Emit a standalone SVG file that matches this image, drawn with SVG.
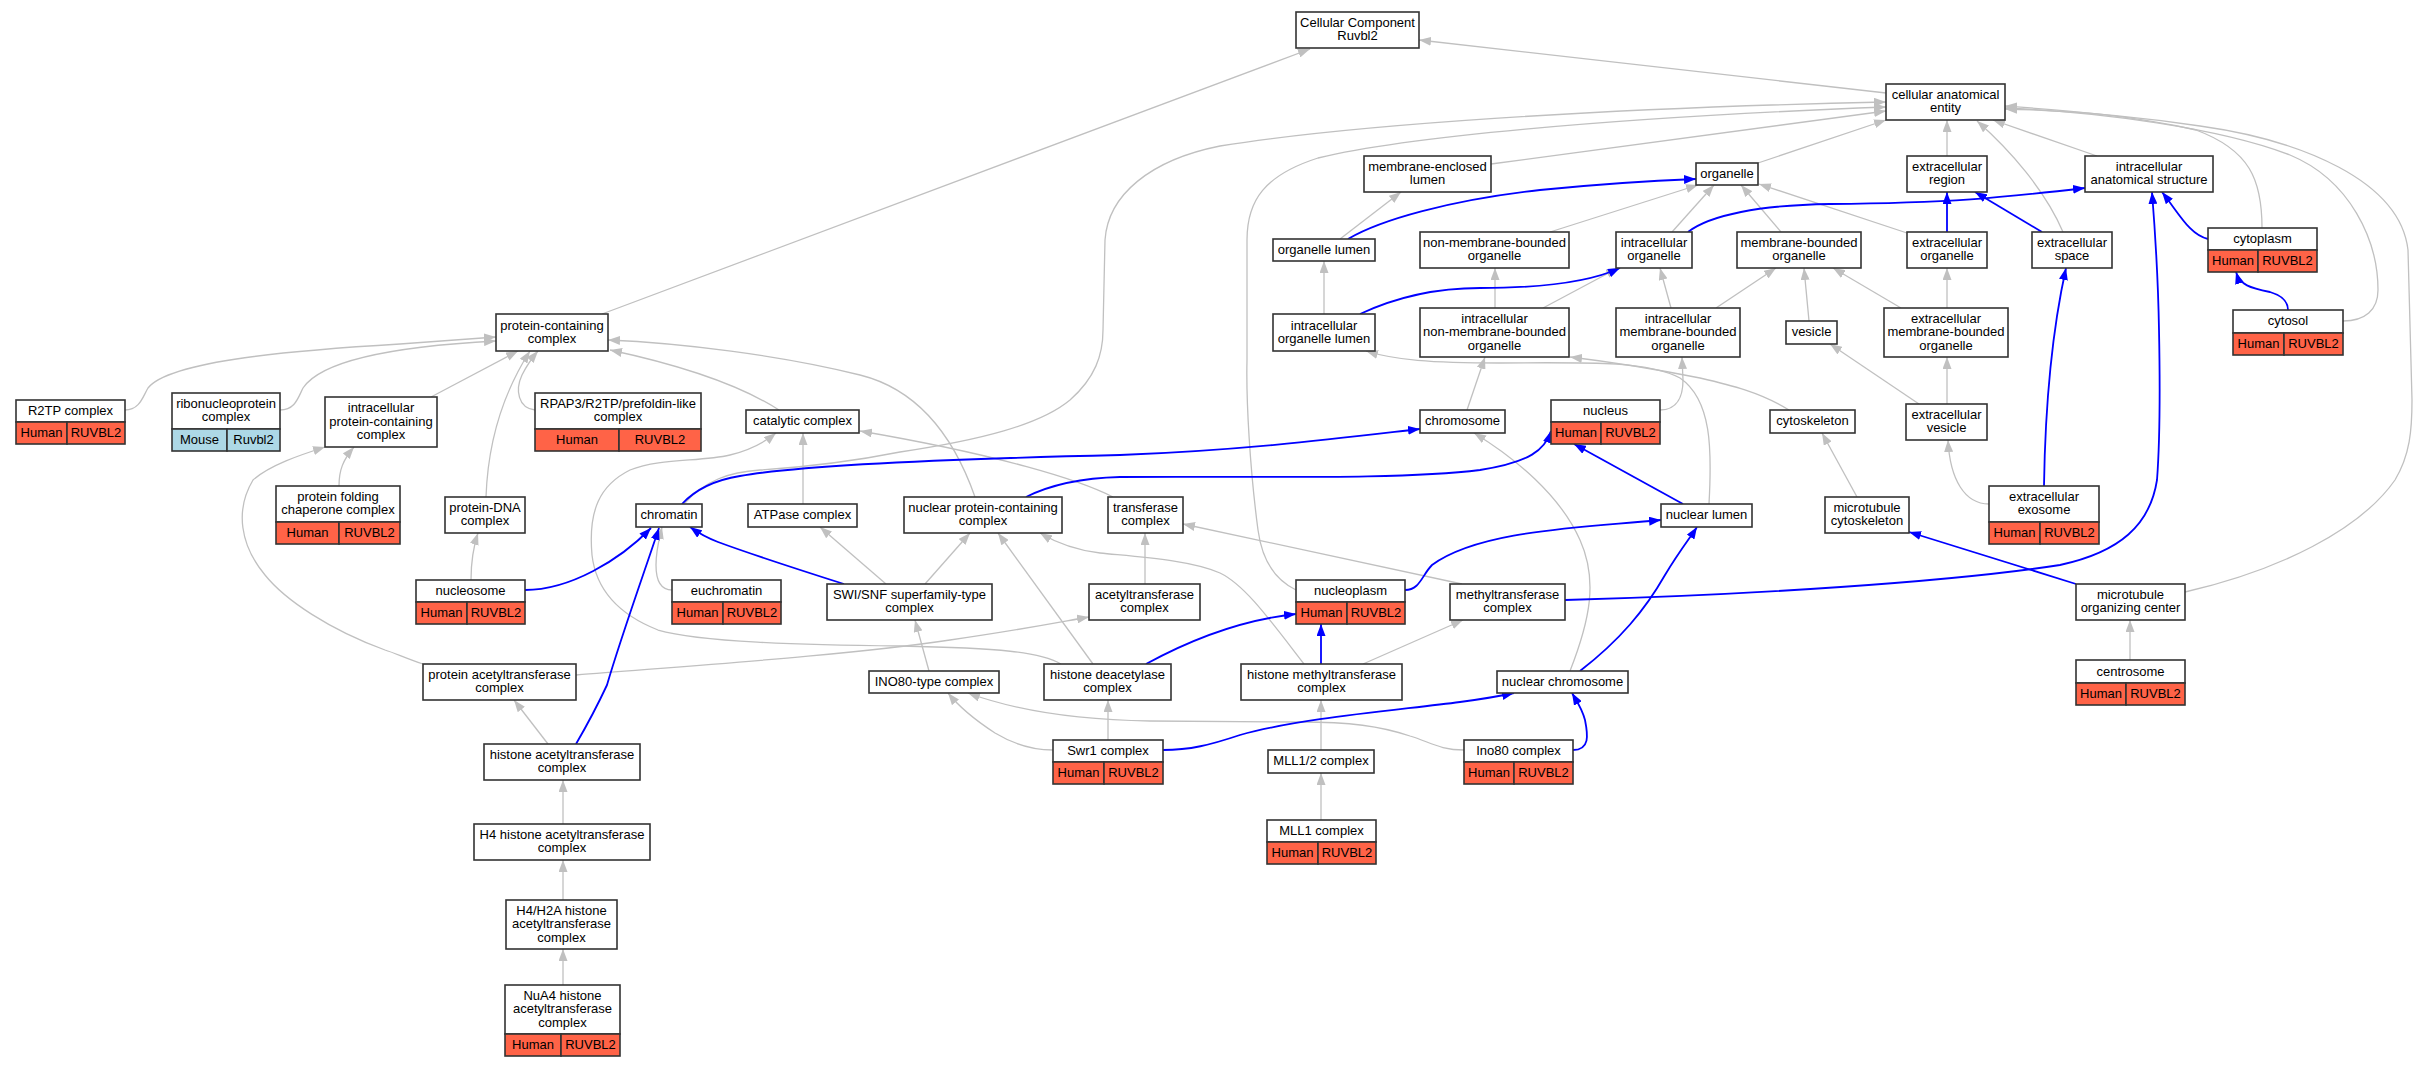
<svg xmlns="http://www.w3.org/2000/svg" width="2421" height="1067" viewBox="0 0 2421 1067">
<defs>
<style>
text{font-family:"Liberation Sans",Arial,sans-serif;font-size:13px;text-anchor:middle;fill:#000}
.n rect{fill:#fff;stroke:#333;stroke-width:1.6}
.n rect.h{fill:#ff6347}
.n rect.m{fill:#add8e6}
.g{fill:none;stroke:#c0c0c0;stroke-width:1.3;marker-end:url(#ag)}
.b{fill:none;stroke:#0000ff;stroke-width:1.8;marker-end:url(#ab)}
</style>
<marker id="ag" viewBox="0 0 12 9" refX="12" refY="4.5" markerWidth="12" markerHeight="9" markerUnits="userSpaceOnUse" orient="auto"><path d="M0,0 L12,4.5 L0,9 z" fill="#c0c0c0"/></marker>
<marker id="ab" viewBox="0 0 12 9" refX="12" refY="4.5" markerWidth="12" markerHeight="9" markerUnits="userSpaceOnUse" orient="auto"><path d="M0,0 L12,4.5 L0,9 z" fill="#0000ff"/></marker>
</defs>
<rect width="2421" height="1067" fill="#fff"/>
<g id="connectors">
<path class="g" d="M602,314 L1310,49"/>
<path class="g" d="M1886,93 L1419,40"/>
<path class="g" d="M1491,164 L1886,111"/>
<path class="g" d="M1758,163 L1886,120"/>
<path class="g" d="M684,504 C705,480 730,472 760,470 C820,466 860,460 900,452 C980,440 1040,425 1070,400 C1095,378 1103,355 1103,330 L1105,240 C1108,195 1150,160 1220,146 C1350,125 1600,108 1886,102"/>
<path class="g" d="M1296,590 C1275,580 1262,560 1258,530 C1250,470 1246,400 1247,360 L1247,240 C1247,200 1265,175 1318,158 C1400,138 1600,118 1886,107"/>
<path class="g" d="M1947,156 L1947,120"/>
<path class="g" d="M2063,232 C2045,190 2010,150 1977,121"/>
<path class="g" d="M2097,156 L1993,120"/>
<path class="g" d="M2262,228 C2262,180 2250,150 2196,130 C2130,115 2060,110 2005,106"/>
<path class="g" d="M2343,321 C2365,321 2378,310 2378,290 C2378,240 2350,180 2290,155 C2220,128 2100,112 2005,108"/>
<path class="g" d="M2185,592 C2280,570 2360,530 2395,480 C2410,455 2412,430 2412,400 L2408,250 C2400,180 2300,140 2200,126 C2120,114 2050,110 2005,109"/>
<path class="g" d="M1340,239 L1401,192"/>
<path class="g" d="M1550,232 L1698,185"/>
<path class="g" d="M1672,232 L1714,185"/>
<path class="g" d="M1781,232 L1741,185"/>
<path class="g" d="M1907,233 L1759,184"/>
<path class="g" d="M1324,314 L1324,261"/>
<path class="g" d="M1495,308 L1495,268"/>
<path class="g" d="M1543,308 L1618,268"/>
<path class="g" d="M1671,308 L1660,268"/>
<path class="g" d="M1716,308 L1776,268"/>
<path class="g" d="M1947,308 L1947,268"/>
<path class="g" d="M1901,308 L1833,268"/>
<path class="g" d="M1809,321 L1804,268"/>
<path class="g" d="M1919,404 L1830,344"/>
<path class="g" d="M1947,404 L1947,357"/>
<path class="g" d="M1989,504 C1965,504 1950,480 1948,440"/>
<path class="g" d="M1789,410 C1760,392 1730,385 1700,378 C1660,370 1620,363 1570,357"/>
<path class="g" d="M1857,497 L1822,433"/>
<path class="g" d="M1709,504 C1712,450 1712,400 1680,378 C1650,362 1600,362 1500,363 C1430,363 1395,360 1366,351"/>
<path class="g" d="M1660,410 C1678,410 1683,395 1683,380 L1682,357"/>
<path class="g" d="M1467,410 L1485,357"/>
<path class="g" d="M1570,671 C1590,620 1598,580 1580,540 C1560,495 1515,458 1474,433"/>
<path class="g" d="M779,410 C740,385 680,365 610,350"/>
<path class="g" d="M975,497 C955,440 920,390 860,375 C780,355 680,343 608,340"/>
<path class="g" d="M803,504 L803,433"/>
<path class="g" d="M1113,497 C1080,480 1000,455 860,431"/>
<path class="g" d="M886,584 L820,527"/>
<path class="g" d="M925,584 L970,533"/>
<path class="g" d="M1093,664 L998,533"/>
<path class="g" d="M1304,664 C1270,620 1245,585 1220,573 C1190,560 1140,557 1100,553 C1075,550 1055,542 1040,533"/>
<path class="g" d="M1363,664 L1463,620"/>
<path class="g" d="M1145,584 L1145,533"/>
<path class="g" d="M1462,584 L1183,524"/>
<path class="g" d="M1061,664 C1040,652 1000,648 900,646 C800,645 700,642 658,630 C620,615 596,590 592,555 C588,510 600,485 630,470 C660,458 700,462 730,455 C750,450 765,442 776,433"/>
<path class="g" d="M125,410 C140,410 143,396 148,388 C170,360 300,350 400,344 C440,341 470,339 496,337"/>
<path class="g" d="M280,410 C295,410 298,398 303,388 C325,355 420,345 496,341"/>
<path class="g" d="M431,397 L518,351"/>
<path class="g" d="M486,497 C488,440 505,390 530,351"/>
<path class="g" d="M535,410 C518,408 515,390 522,375 C527,365 532,358 538,351"/>
<path class="g" d="M339,486 C339,470 343,460 354,447"/>
<path class="g" d="M423,664 C405,658 395,653 385,650 C330,630 285,600 265,575 C240,545 235,510 253,480 C270,465 300,455 325,447"/>
<path class="g" d="M471,580 C471,560 474,545 478,533"/>
<path class="g" d="M672,590 C660,590 656,580 656,565 C656,550 659,540 662,527"/>
<path class="g" d="M576,675 C700,665 850,655 950,640 C1020,630 1060,622 1089,617"/>
<path class="g" d="M548,744 L514,700"/>
<path class="g" d="M563,824 L563,780"/>
<path class="g" d="M563,900 L563,860"/>
<path class="g" d="M563,985 L563,949"/>
<path class="g" d="M929,671 L915,620"/>
<path class="g" d="M1053,750 C1030,750 1010,742 995,733 C975,720 960,708 948,693"/>
<path class="g" d="M1464,750 C1440,750 1430,742 1410,736 C1380,726 1350,722 1300,722 L1150,721 C1080,720 1020,712 968,693"/>
<path class="g" d="M1108,740 L1108,700"/>
<path class="g" d="M1321,750 L1321,700"/>
<path class="g" d="M1321,820 L1321,773"/>
<path class="g" d="M2130,660 L2130,620"/>
<path class="b" d="M1348,239 C1380,220 1450,200 1540,190 C1620,182 1670,180 1696,179"/>
<path class="b" d="M1360,314 C1390,300 1430,288 1480,288 C1540,288 1590,282 1620,268"/>
<path class="b" d="M1688,232 C1710,215 1760,205 1830,204 C1950,203 2000,198 2085,188"/>
<path class="b" d="M1947,232 L1947,192"/>
<path class="b" d="M2042,232 L1975,192"/>
<path class="b" d="M2208,239 C2190,235 2180,215 2162,192"/>
<path class="b" d="M2288,310 C2288,300 2280,295 2270,292 C2250,288 2240,285 2236,272"/>
<path class="b" d="M2044,486 C2045,420 2050,340 2066,268"/>
<path class="b" d="M1565,600 C1750,595 1950,582 2060,565 C2120,552 2150,525 2157,480 C2160,440 2160,380 2159,330 C2158,270 2155,230 2152,192"/>
<path class="b" d="M2076,584 L1909,532"/>
<path class="b" d="M1405,590 C1420,590 1422,575 1432,565 C1480,530 1580,528 1661,520"/>
<path class="b" d="M1683,504 L1574,444"/>
<path class="b" d="M1580,671 C1620,640 1645,610 1665,575 C1680,550 1690,538 1697,527"/>
<path class="b" d="M1321,664 L1321,624"/>
<path class="b" d="M1146,664 C1190,640 1240,620 1296,614"/>
<path class="b" d="M1163,750 C1190,750 1210,745 1240,735 C1300,718 1400,710 1460,702 C1490,698 1505,695 1514,693"/>
<path class="b" d="M1573,750 C1590,750 1588,735 1585,720 C1582,708 1576,700 1572,693"/>
<path class="b" d="M1026,497 C1050,485 1080,478 1120,477 C1250,476 1400,480 1480,470 C1530,462 1545,450 1551,431"/>
<path class="b" d="M682,504 C695,490 715,480 740,476 C790,467 900,460 1120,455 C1250,450 1350,437 1420,429"/>
<path class="b" d="M525,590 C570,590 620,560 651,528"/>
<path class="b" d="M576,744 C590,720 600,700 607,685 C620,640 645,570 659,528"/>
<path class="b" d="M844,584 C800,570 745,552 718,542 C705,537 697,532 690,527"/>
</g>
<g id="cc" class="n"><rect x="1296" y="12" width="123" height="36"/><text x="1357.5" y="27">Cellular Component</text><text x="1357.5" y="40">Ruvbl2</text></g>
<g id="cae" class="n"><rect x="1886" y="84" width="119" height="36"/><text x="1945.5" y="99">cellular anatomical</text><text x="1945.5" y="112">entity</text></g>
<g id="mel" class="n"><rect x="1364" y="156" width="127" height="36"/><text x="1427.5" y="171">membrane-enclosed</text><text x="1427.5" y="184">lumen</text></g>
<g id="organelle" class="n"><rect x="1696" y="163" width="62" height="22"/><text x="1727" y="177.5">organelle</text></g>
<g id="er" class="n"><rect x="1907" y="156" width="80" height="36"/><text x="1947" y="171">extracellular</text><text x="1947" y="184">region</text></g>
<g id="ias" class="n"><rect x="2085" y="156" width="128" height="36"/><text x="2149" y="171">intracellular</text><text x="2149" y="184">anatomical structure</text></g>
<g id="ol" class="n"><rect x="1273" y="239" width="102" height="22"/><text x="1324" y="253.5">organelle lumen</text></g>
<g id="nmbo" class="n"><rect x="1420" y="232" width="149" height="36"/><text x="1494.5" y="247">non-membrane-bounded</text><text x="1494.5" y="260">organelle</text></g>
<g id="io" class="n"><rect x="1616" y="232" width="76" height="36"/><text x="1654" y="247">intracellular</text><text x="1654" y="260">organelle</text></g>
<g id="mbo" class="n"><rect x="1737" y="232" width="124" height="36"/><text x="1799" y="247">membrane-bounded</text><text x="1799" y="260">organelle</text></g>
<g id="eo" class="n"><rect x="1907" y="232" width="80" height="36"/><text x="1947" y="247">extracellular</text><text x="1947" y="260">organelle</text></g>
<g id="es" class="n"><rect x="2032" y="232" width="80" height="36"/><text x="2072" y="247">extracellular</text><text x="2072" y="260">space</text></g>
<g id="cytoplasm" class="n"><rect x="2208" y="228" width="109" height="22"/><rect class="h" x="2208" y="250" width="50" height="22"/><rect class="h" x="2258" y="250" width="59" height="22"/><text x="2262.5" y="242.5">cytoplasm</text><text x="2233" y="264.5">Human</text><text x="2287.5" y="264.5">RUVBL2</text></g>
<g id="iol" class="n"><rect x="1273" y="314" width="102" height="37"/><text x="1324" y="329.5">intracellular</text><text x="1324" y="342.5">organelle lumen</text></g>
<g id="inmbo" class="n"><rect x="1420" y="308" width="149" height="49"/><text x="1494.5" y="323">intracellular</text><text x="1494.5" y="336">non-membrane-bounded</text><text x="1494.5" y="349.5">organelle</text></g>
<g id="imbo" class="n"><rect x="1616" y="308" width="124" height="49"/><text x="1678" y="323">intracellular</text><text x="1678" y="336">membrane-bounded</text><text x="1678" y="349.5">organelle</text></g>
<g id="vesicle" class="n"><rect x="1786" y="321" width="51" height="23"/><text x="1811.5" y="336">vesicle</text></g>
<g id="embo" class="n"><rect x="1884" y="308" width="124" height="49"/><text x="1946" y="323">extracellular</text><text x="1946" y="336">membrane-bounded</text><text x="1946" y="349.5">organelle</text></g>
<g id="cytosol" class="n"><rect x="2233" y="310" width="110" height="23"/><rect class="h" x="2233" y="333" width="51" height="22"/><rect class="h" x="2284" y="333" width="59" height="22"/><text x="2288" y="325">cytosol</text><text x="2258.5" y="347.5">Human</text><text x="2313.5" y="347.5">RUVBL2</text></g>
<g id="pcc" class="n"><rect x="496" y="314" width="112" height="37"/><text x="552" y="329.5">protein-containing</text><text x="552" y="342.5">complex</text></g>
<g id="r2tp" class="n"><rect x="16" y="400" width="109" height="22"/><rect class="h" x="16" y="422" width="51" height="22"/><rect class="h" x="67" y="422" width="58" height="22"/><text x="70.5" y="414.5">R2TP complex</text><text x="41.5" y="436.5">Human</text><text x="96" y="436.5">RUVBL2</text></g>
<g id="rnp" class="n"><rect x="172" y="393" width="108" height="36"/><rect class="m" x="172" y="429" width="55" height="22"/><rect class="m" x="227" y="429" width="53" height="22"/><text x="226" y="408">ribonucleoprotein</text><text x="226" y="421">complex</text><text x="199.5" y="443.5">Mouse</text><text x="253.5" y="443.5">Ruvbl2</text></g>
<g id="ipcc" class="n"><rect x="325" y="397" width="112" height="50"/><text x="381" y="412">intracellular</text><text x="381" y="425.5">protein-containing</text><text x="381" y="439">complex</text></g>
<g id="rpap3" class="n"><rect x="535" y="393" width="166" height="36"/><rect class="h" x="535" y="429" width="84" height="22"/><rect class="h" x="619" y="429" width="82" height="22"/><text x="618" y="408">RPAP3/R2TP/prefoldin-like</text><text x="618" y="421">complex</text><text x="577" y="443.5">Human</text><text x="660" y="443.5">RUVBL2</text></g>
<g id="catalytic" class="n"><rect x="746" y="410" width="113" height="23"/><text x="802.5" y="425">catalytic complex</text></g>
<g id="chromosome" class="n"><rect x="1420" y="410" width="85" height="23"/><text x="1462.5" y="425">chromosome</text></g>
<g id="nucleus" class="n"><rect x="1551" y="400" width="109" height="22"/><rect class="h" x="1551" y="422" width="50" height="22"/><rect class="h" x="1601" y="422" width="59" height="22"/><text x="1605.5" y="414.5">nucleus</text><text x="1576" y="436.5">Human</text><text x="1630.5" y="436.5">RUVBL2</text></g>
<g id="cytoskeleton" class="n"><rect x="1770" y="410" width="85" height="23"/><text x="1812.5" y="425">cytoskeleton</text></g>
<g id="ev" class="n"><rect x="1906" y="404" width="81" height="36"/><text x="1946.5" y="419">extracellular</text><text x="1946.5" y="432">vesicle</text></g>
<g id="pfcc" class="n"><rect x="276" y="486" width="124" height="36"/><rect class="h" x="276" y="522" width="63" height="22"/><rect class="h" x="339" y="522" width="61" height="22"/><text x="338" y="501">protein folding</text><text x="338" y="514">chaperone complex</text><text x="307.5" y="536.5">Human</text><text x="369.5" y="536.5">RUVBL2</text></g>
<g id="pdna" class="n"><rect x="445" y="497" width="80" height="36"/><text x="485" y="512">protein-DNA</text><text x="485" y="525">complex</text></g>
<g id="chromatin" class="n"><rect x="636" y="504" width="66" height="23"/><text x="669" y="519">chromatin</text></g>
<g id="atpase" class="n"><rect x="748" y="504" width="109" height="23"/><text x="802.5" y="519">ATPase complex</text></g>
<g id="npc" class="n"><rect x="904" y="497" width="158" height="36"/><text x="983" y="512">nuclear protein-containing</text><text x="983" y="525">complex</text></g>
<g id="transferase" class="n"><rect x="1108" y="497" width="75" height="36"/><text x="1145.5" y="512">transferase</text><text x="1145.5" y="525">complex</text></g>
<g id="nl" class="n"><rect x="1661" y="504" width="91" height="23"/><text x="1706.5" y="519">nuclear lumen</text></g>
<g id="mc" class="n"><rect x="1825" y="497" width="84" height="36"/><text x="1867" y="512">microtubule</text><text x="1867" y="525">cytoskeleton</text></g>
<g id="exosome" class="n"><rect x="1989" y="486" width="110" height="36"/><rect class="h" x="1989" y="522" width="51" height="22"/><rect class="h" x="2040" y="522" width="59" height="22"/><text x="2044" y="501">extracellular</text><text x="2044" y="514">exosome</text><text x="2014.5" y="536.5">Human</text><text x="2069.5" y="536.5">RUVBL2</text></g>
<g id="nucleosome" class="n"><rect x="416" y="580" width="109" height="22"/><rect class="h" x="416" y="602" width="51" height="22"/><rect class="h" x="467" y="602" width="58" height="22"/><text x="470.5" y="594.5">nucleosome</text><text x="441.5" y="616.5">Human</text><text x="496" y="616.5">RUVBL2</text></g>
<g id="euchromatin" class="n"><rect x="672" y="580" width="109" height="22"/><rect class="h" x="672" y="602" width="51" height="22"/><rect class="h" x="723" y="602" width="58" height="22"/><text x="726.5" y="594.5">euchromatin</text><text x="697.5" y="616.5">Human</text><text x="752" y="616.5">RUVBL2</text></g>
<g id="swisnf" class="n"><rect x="827" y="584" width="165" height="36"/><text x="909.5" y="599">SWI/SNF superfamily-type</text><text x="909.5" y="612">complex</text></g>
<g id="atc" class="n"><rect x="1089" y="584" width="111" height="36"/><text x="1144.5" y="599">acetyltransferase</text><text x="1144.5" y="612">complex</text></g>
<g id="nucleoplasm" class="n"><rect x="1296" y="580" width="109" height="22"/><rect class="h" x="1296" y="602" width="51" height="22"/><rect class="h" x="1347" y="602" width="58" height="22"/><text x="1350.5" y="594.5">nucleoplasm</text><text x="1321.5" y="616.5">Human</text><text x="1376" y="616.5">RUVBL2</text></g>
<g id="mtc" class="n"><rect x="1450" y="584" width="115" height="36"/><text x="1507.5" y="599">methyltransferase</text><text x="1507.5" y="612">complex</text></g>
<g id="mtoc" class="n"><rect x="2076" y="584" width="109" height="36"/><text x="2130.5" y="599">microtubule</text><text x="2130.5" y="612">organizing center</text></g>
<g id="pac" class="n"><rect x="423" y="664" width="153" height="36"/><text x="499.5" y="679">protein acetyltransferase</text><text x="499.5" y="692">complex</text></g>
<g id="ino80t" class="n"><rect x="869" y="671" width="130" height="22"/><text x="934" y="685.5">INO80-type complex</text></g>
<g id="hdc" class="n"><rect x="1044" y="664" width="127" height="36"/><text x="1107.5" y="679">histone deacetylase</text><text x="1107.5" y="692">complex</text></g>
<g id="hmc" class="n"><rect x="1241" y="664" width="161" height="36"/><text x="1321.5" y="679">histone methyltransferase</text><text x="1321.5" y="692">complex</text></g>
<g id="nc" class="n"><rect x="1497" y="671" width="131" height="22"/><text x="1562.5" y="685.5">nuclear chromosome</text></g>
<g id="centrosome" class="n"><rect x="2076" y="660" width="109" height="23"/><rect class="h" x="2076" y="683" width="50" height="22"/><rect class="h" x="2126" y="683" width="59" height="22"/><text x="2130.5" y="675.5">centrosome</text><text x="2101" y="697.5">Human</text><text x="2155.5" y="697.5">RUVBL2</text></g>
<g id="hac" class="n"><rect x="484" y="744" width="156" height="36"/><text x="562" y="759">histone acetyltransferase</text><text x="562" y="772">complex</text></g>
<g id="swr1" class="n"><rect x="1053" y="740" width="110" height="22"/><rect class="h" x="1053" y="762" width="51" height="22"/><rect class="h" x="1104" y="762" width="59" height="22"/><text x="1108" y="754.5">Swr1 complex</text><text x="1078.5" y="776.5">Human</text><text x="1133.5" y="776.5">RUVBL2</text></g>
<g id="mll12" class="n"><rect x="1268" y="750" width="106" height="23"/><text x="1321" y="765">MLL1/2 complex</text></g>
<g id="ino80" class="n"><rect x="1464" y="740" width="109" height="22"/><rect class="h" x="1464" y="762" width="50" height="22"/><rect class="h" x="1514" y="762" width="59" height="22"/><text x="1518.5" y="754.5">Ino80 complex</text><text x="1489" y="776.5">Human</text><text x="1543.5" y="776.5">RUVBL2</text></g>
<g id="mll1" class="n"><rect x="1267" y="820" width="109" height="22"/><rect class="h" x="1267" y="842" width="51" height="22"/><rect class="h" x="1318" y="842" width="58" height="22"/><text x="1321.5" y="834.5">MLL1 complex</text><text x="1292.5" y="856.5">Human</text><text x="1347" y="856.5">RUVBL2</text></g>
<g id="h4" class="n"><rect x="474" y="824" width="176" height="36"/><text x="562" y="839">H4 histone acetyltransferase</text><text x="562" y="852">complex</text></g>
<g id="h4h2a" class="n"><rect x="506" y="900" width="111" height="49"/><text x="561.5" y="915">H4/H2A histone</text><text x="561.5" y="928">acetyltransferase</text><text x="561.5" y="941.5">complex</text></g>
<g id="nua4" class="n"><rect x="505" y="985" width="115" height="49"/><rect class="h" x="505" y="1034" width="56" height="22"/><rect class="h" x="561" y="1034" width="59" height="22"/><text x="562.5" y="1000">NuA4 histone</text><text x="562.5" y="1013">acetyltransferase</text><text x="562.5" y="1026.5">complex</text><text x="533" y="1048.5">Human</text><text x="590.5" y="1048.5">RUVBL2</text></g>
</svg>
